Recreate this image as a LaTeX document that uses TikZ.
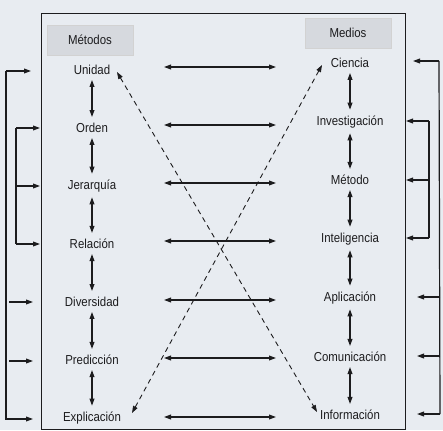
\documentclass[tikz,border=0pt]{standalone}
\usepackage{fontspec}
\setmainfont[FakeStretch=0.88]{Liberation Sans}
\usetikzlibrary{arrows.meta}
\definecolor{bg}{RGB}{232,236,241}
\definecolor{hdr}{RGB}{214,217,222}
\definecolor{ink}{RGB}{28,28,30}
\tikzset{
  lbl/.style={font=\fontsize{13}{15}\selectfont, text=ink, inner sep=2pt},
  hdrbox/.style={lbl, fill=hdr, draw=gray!35, minimum width=86pt, minimum height=30pt},
  tip/.tip={Triangle[length=7pt,width=4.8pt]},
  line/.style={draw=ink, line width=1.2pt},
  onearr/.style={line, -tip},
  dblarr/.style={line, tip-tip},
  dasharr/.style={draw=ink, line width=0.9pt, dash pattern=on 5pt off 4pt, tip-tip}
}
\begin{document}
\begin{tikzpicture}[x=1pt,y=-1pt]
\useasboundingbox (0,0) rectangle (443,430);
\fill[bg] (0,0) rectangle (443,430);
% main frame
\draw[draw=ink, line width=0.9pt] (41,13) rectangle (405,429);
% headers
\node[hdrbox] (hm) at (90,40) {Métodos};
\node[hdrbox] (hd) at (348,33) {Medios};
% left column
\node[lbl] (l1) at (92,70) {Unidad};
\node[lbl] (l2) at (92,128) {Orden};
\node[lbl] (l3) at (92,186) {Jerarquía};
\node[lbl] (l4) at (92,244) {Relación};
\node[lbl] (l5) at (92,302) {Diversidad};
\node[lbl] (l6) at (92,360) {Predicción};
\node[lbl] (l7) at (92,418) {Explicación};
% right column
\node[lbl] (r1) at (350,63) {Ciencia};
\node[lbl] (r2) at (350,122) {Investigación};
\node[lbl] (r3) at (350,180) {Método};
\node[lbl] (r4) at (350,239) {Inteligencia};
\node[lbl] (r5) at (350,298) {Aplicación};
\node[lbl] (r6) at (350,357) {Comunicación};
\node[lbl] (r7) at (350,415) {Información};
% vertical arrows
\foreach \a/\b in {l1/l2,l2/l3,l3/l4,l4/l5,l5/l6,l6/l7,r1/r2,r2/r3,r3/r4,r4/r5,r5/r6,r6/r7}
  \draw[dblarr, shorten <=3pt, shorten >=4pt] (\a.south) -- (\b.north);
% horizontal arrows
\foreach \i/\y in {1/67,2/125,3/183,4/241,5/300,6/358,7/417}{
  \coordinate (ha\i) at (164,\y);
  \coordinate (hb\i) at (276,\y);
  \draw[dblarr] (ha\i) -- (hb\i);
}
% dashed diagonals
\coordinate (da) at (117,72);
\coordinate (db) at (317,412);
\coordinate (dc) at (132,413);
\coordinate (dd) at (322,65);
\draw[dasharr] (da) -- (db);
\draw[dasharr] (dc) -- (dd);
% left brackets
\coordinate (lo1) at (6,71);   \coordinate (lt1) at (31,71);
\coordinate (lo5) at (9,302);  \coordinate (lt5) at (33,302);
\coordinate (lo6) at (9,361);  \coordinate (lt6) at (33,361);
\coordinate (lo7) at (9,419);  \coordinate (lt7) at (33,419);
\draw[line] (lo1) -- (6,419) -- (lo7);
\foreach \i in {1,5,6,7} \draw[onearr] (lo\i) -- (lt\i);
\coordinate (li2) at (16,128); \coordinate (lu2) at (40,128);
\coordinate (li3) at (16,186); \coordinate (lu3) at (40,186);
\coordinate (li4) at (16,244); \coordinate (lu4) at (40,244);
\draw[line] (li2) -- (li4);
\foreach \i in {2,3,4} \draw[onearr] (li\i) -- (lu\i);
% right brackets
\coordinate (ro1) at (439,61);  \coordinate (rt1) at (413,61);
\coordinate (ro5) at (440,297); \coordinate (rt5) at (417,297);
\coordinate (ro6) at (440,356); \coordinate (rt6) at (417,356);
\coordinate (ro7) at (440,414); \coordinate (rt7) at (417,414);
\draw[line] (ro1) -- (440,414);
\foreach \i in {1,5,6,7} \draw[onearr] (ro\i) -- (rt\i);
\coordinate (ri2) at (429,121); \coordinate (ru2) at (406,121);
\coordinate (ri3) at (429,180); \coordinate (ru3) at (406,180);
\coordinate (ri4) at (429,238); \coordinate (ru4) at (406,238);
\draw[line] (ri2) -- (ri4);
\foreach \i in {2,3,4} \draw[onearr] (ri\i) -- (ru\i);
\end{tikzpicture}
\end{document}
